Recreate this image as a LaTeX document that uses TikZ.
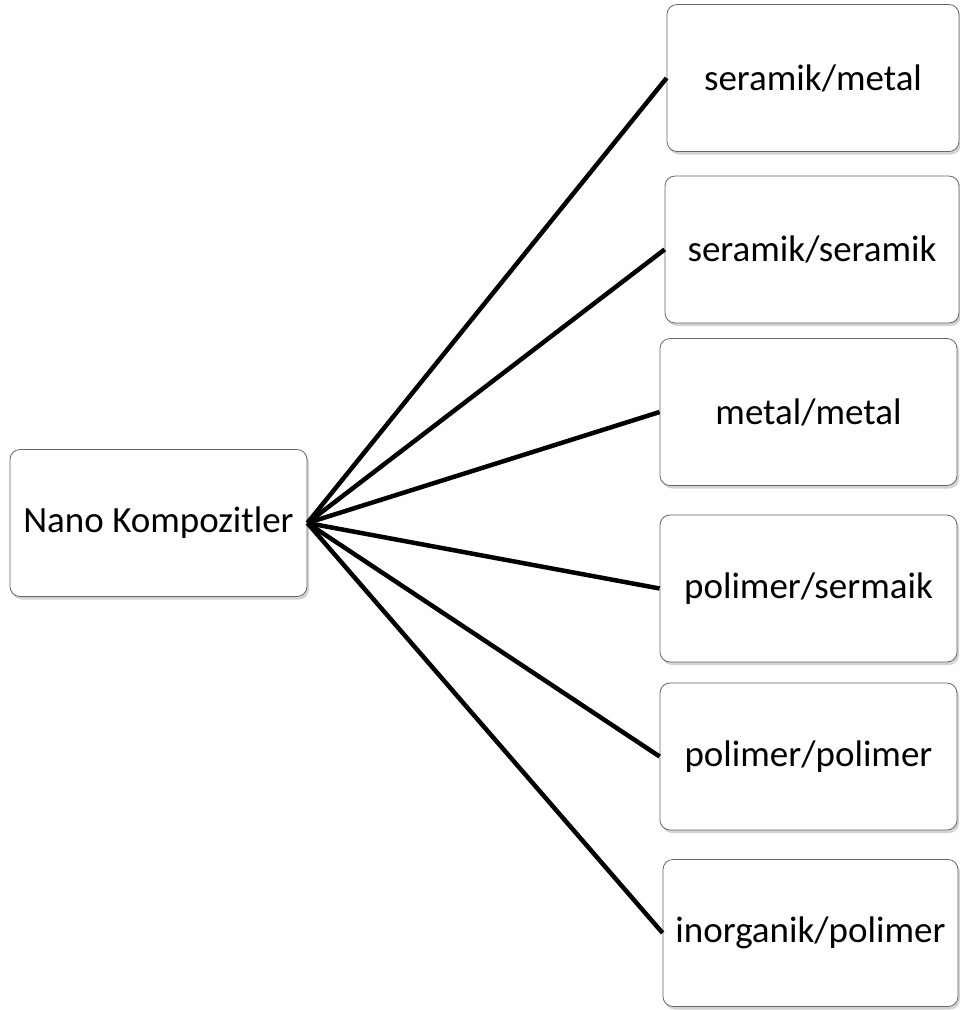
\documentclass[tikz,border=0pt]{standalone}
\usepackage{fontspec}
\setmainfont{Carlito}
\usetikzlibrary{shadows}
\tikzstyle{box}=[draw=black!60,fill=white,rounded corners=10pt,line width=0.8pt,
  minimum width=295pt,minimum height=147pt,inner sep=0pt,font=\fontsize{37}{44}\selectfont,
  drop shadow={shadow xshift=2pt,shadow yshift=-3pt,opacity=0.35}]
\tikzstyle{simple}=[-,draw=black,line width=4.5pt]

\begin{document}
\begin{tikzpicture}[x=1pt,y=-1pt]
  \useasboundingbox (0,0) rectangle (960,1010);
  \node [style=box,minimum width=297pt] (0) at (158.5, 523) {Nano Kompozitler};
  \node [style=box,minimum width=292pt] (1) at (813, 78) {seramik/metal};
  \node [style=box,minimum width=294pt] (2) at (812, 249.5) {seramik/seramik};
  \node [style=box,minimum width=297pt] (3) at (808.5, 412) {metal/metal};
  \node [style=box,minimum width=297pt] (4) at (808.5, 588.5) {polimer/sermaik};
  \node [style=box,minimum width=297pt] (5) at (808.5, 756.5) {polimer/polimer};
  \node [style=box,minimum width=295pt] (6) at (810.5, 933) {inorganik/polimer};
  \draw [style=simple] (0.east) to (1.west);
  \draw [style=simple] (0.east) to (2.west);
  \draw [style=simple] (0.east) to (3.west);
  \draw [style=simple] (0.east) to (4.west);
  \draw [style=simple] (0.east) to (5.west);
  \draw [style=simple] (0.east) to (6.west);
\end{tikzpicture}
\end{document}
